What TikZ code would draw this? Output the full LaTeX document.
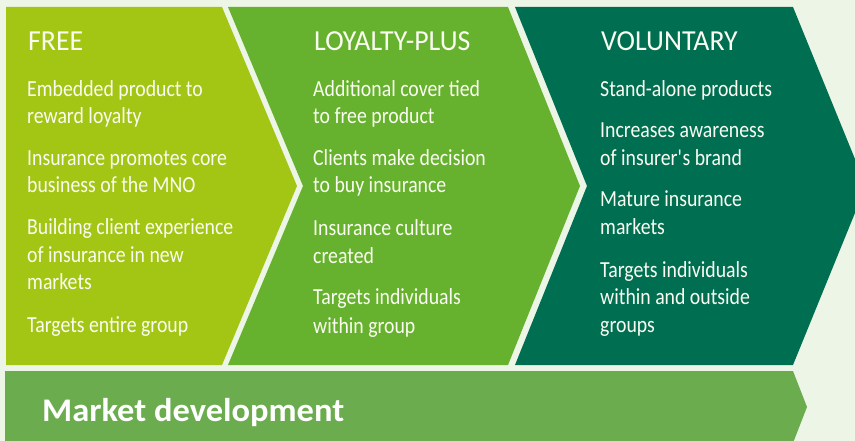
\documentclass[tikz,border=0pt]{standalone}
\usepackage{fontspec}
\setmainfont{Carlito}[FakeStretch=0.86]
\newfontfamily\headfont{Carlito}[FakeStretch=0.96]
\newfontfamily\barfont{Carlito}[FakeStretch=1.045]
\definecolor{bg}{RGB}{237,245,230}
\definecolor{pfree}{RGB}{163,197,20}
\definecolor{ploy}{RGB}{102,178,46}
\definecolor{pvol}{RGB}{0,111,81}
\definecolor{pbar}{RGB}{107,172,78}
\definecolor{txt}{RGB}{250,252,242}
\tikzset{
  head/.style={anchor=base west, text=txt, inner sep=0pt, font=\headfont\fontsize{29}{29}\selectfont},
  body/.style={anchor=base west, text=txt, inner sep=0pt, font=\fontsize{23}{27}\selectfont},
  bartext/.style={anchor=base west, text=white, inner sep=0pt, font=\barfont\bfseries\fontsize{33}{33}\selectfont}
}
\begin{document}
\begin{tikzpicture}[x=1pt,y=-1pt]
\useasboundingbox (0,0) rectangle (855,441);
\fill[bg] (0,0) rectangle (855,441);
% panels
\fill[pfree] (6,7) -- (222,7) -- (297,186) -- (222,365) -- (6,365) -- cycle;
\fill[ploy] (228,7) -- (508,7) -- (580,186) -- (508,365) -- (228,365) -- (303,186) -- cycle;
\fill[pvol] (515,7) -- (793,7) -- (866,186) -- (793,365) -- (515,365) -- (587,186) -- cycle;
% bar
\fill[pbar] (5,371) -- (793,371) -- (807,407) -- (793,443) -- (5,443) -- cycle;
% FREE
\node[head] (h1) at (28,51) {FREE};
\node[body] (f1) at (27,97) {Embedded product to};
\node[body] (f2) at (27,124) {reward loyalty};
\node[body] (f3) at (27,166) {Insurance promotes core};
\node[body] (f4) at (27,193) {business of the MNO};
\node[body] (f5) at (27,235) {Building client experience};
\node[body] (f6) at (27,262) {of insurance in new};
\node[body] (f7) at (27,289) {markets};
\node[body] (f8) at (27,332) {Targets entire group};
% LOYALTY-PLUS
\node[head] (h2) at (314,51) {LOYALTY-PLUS};
\node[body] (l1) at (313,97) {Additional cover tied};
\node[body] (l2) at (313,124) {to free product};
\node[body] (l3) at (313,166) {Clients make decision};
\node[body] (l4) at (313,193) {to buy insurance};
\node[body] (l5) at (313,236) {Insurance culture};
\node[body] (l6) at (313,263) {created};
\node[body] (l7) at (313,305) {Targets individuals};
\node[body] (l8) at (313,333) {within group};
% VOLUNTARY
\node[head] (h3) at (601,51) {VOLUNTARY};
\node[body] (v1) at (600,97) {Stand-alone products};
\node[body] (v2) at (600,138) {Increases awareness};
\node[body] (v3) at (600,166) {of insurer\textquotesingle s brand};
\node[body] (v4) at (600,207) {Mature insurance};
\node[body] (v5) at (600,235) {markets};
\node[body] (v6) at (600,277) {Targets individuals};
\node[body] (v7) at (600,305) {within and outside};
\node[body] (v8) at (600,332) {groups};
% bar text
\node[bartext] (md) at (42,421) {Market development};
\end{tikzpicture}
\end{document}
